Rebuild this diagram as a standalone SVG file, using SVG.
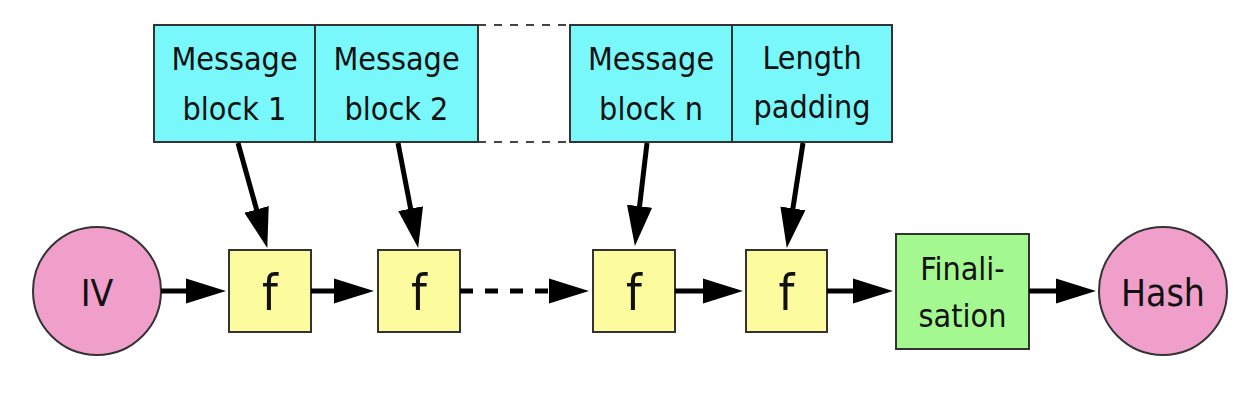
<svg xmlns="http://www.w3.org/2000/svg" width="1252" height="410" viewBox="0 0 1252 410">
<style>
text{font-family:'DejaVu Sans Condensed','DejaVu Sans',sans-serif;fill:#111;text-anchor:middle}
.msg rect{fill:#78f8fa;stroke:#333;stroke-width:2}
.f rect{fill:#fcfc9e;stroke:#333;stroke-width:2}
.c circle{fill:#ef9fca;stroke:#333;stroke-width:2}
.t{font-size:32px}
.ft{font-size:50px}
.ct{font-size:37px}
.conn line{stroke:#000;stroke-width:5;marker-end:url(#ah)}
.dash line{stroke:#444;stroke-width:2;stroke-dasharray:8 8}
</style>
<defs>
<marker id="ah" markerUnits="userSpaceOnUse" markerWidth="40" markerHeight="26" refX="20" refY="12" orient="auto" viewBox="0 0 38 24">
<path d="M0,0 L38,12 L0,24 z" fill="#000"/>
</marker>
</defs>
<rect width="1252" height="410" fill="#fff"/>
<g class="dash">
<line x1="478" y1="25" x2="570" y2="25"/>
<line x1="478" y1="142" x2="570" y2="142"/>
</g>
<g id="msg1" class="msg"><rect x="154" y="25" width="161" height="117"/><text class="t" x="234.5" y="70">Message</text><text class="t" x="234.5" y="120">block 1</text></g>
<g id="msg2" class="msg"><rect x="315" y="25" width="163" height="117"/><text class="t" x="396.5" y="70">Message</text><text class="t" x="396.5" y="120">block 2</text></g>
<g id="msgn" class="msg"><rect x="570" y="25" width="162" height="117"/><text class="t" x="651" y="70">Message</text><text class="t" x="651" y="120">block n</text></g>
<g id="pad" class="msg"><rect x="732" y="25" width="160" height="117"/><text class="t" x="812" y="69">Length</text><text class="t" x="812" y="118">padding</text></g>
<g id="iv" class="c"><circle cx="97" cy="291" r="64"/><text class="ct" x="97" y="306">IV</text></g>
<g id="f1" class="f"><rect x="229" y="250" width="82" height="82"/><text class="ft" x="270" y="310">f</text></g>
<g id="f2" class="f"><rect x="378" y="250" width="82" height="82"/><text class="ft" x="419" y="310">f</text></g>
<g id="f3" class="f"><rect x="593" y="250" width="82" height="82"/><text class="ft" x="634" y="310">f</text></g>
<g id="f4" class="f"><rect x="746" y="250" width="81" height="82"/><text class="ft" x="786.5" y="310">f</text></g>
<g id="fin"><rect x="896" y="234" width="133" height="115" fill="#a4f890" stroke="#333" stroke-width="2"/><text class="t" x="962.5" y="280">Finali-</text><text class="t" x="962.5" y="327">sation</text></g>
<g id="hash" class="c"><circle cx="1163" cy="291" r="64"/><text class="ct" x="1163" y="306">Hash</text></g>
<g id="connectors" class="conn">
<line x1="238" y1="143" x2="262.2" y2="229.7"/>
<line x1="398" y1="143" x2="414.6" y2="229.3"/>
<line x1="647" y1="143" x2="637.1" y2="227.1"/>
<line x1="803" y1="143" x2="789.7" y2="229.2"/>
<line x1="161" y1="291" x2="207" y2="291"/>
<line x1="311" y1="291" x2="355" y2="291"/>
<line x1="460" y1="291" x2="570" y2="291" stroke-dasharray="13 12"/>
<line x1="675" y1="291" x2="724" y2="291"/>
<line x1="827" y1="291" x2="874" y2="291"/>
<line x1="1029" y1="291" x2="1077" y2="291"/>
</g>
</svg>
